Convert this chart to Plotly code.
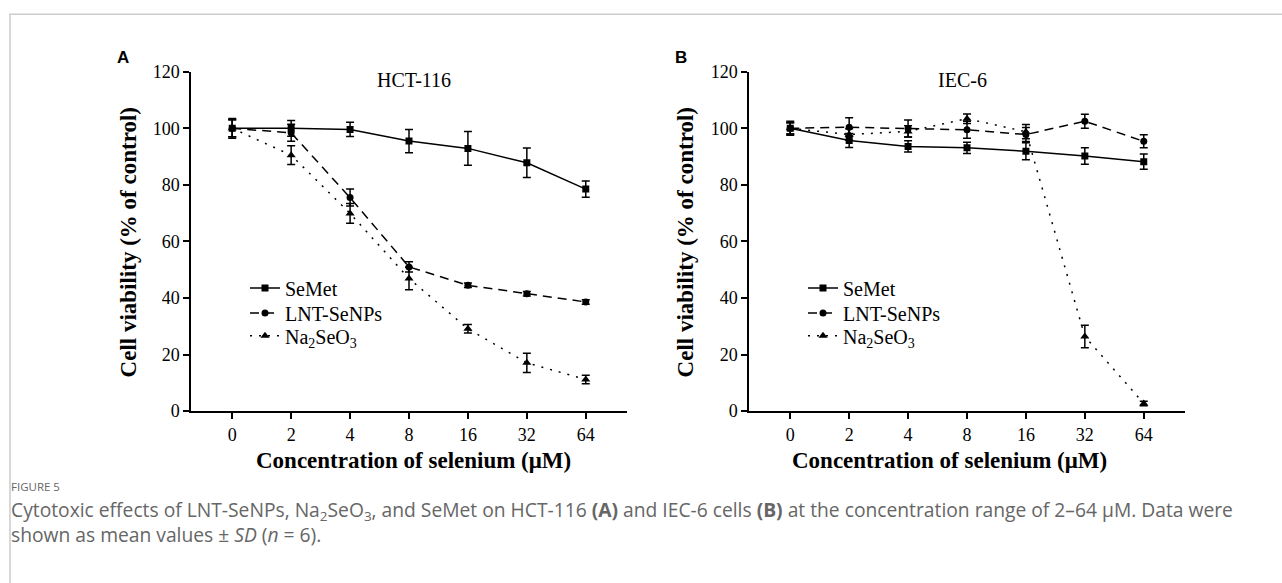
import plotly.graph_objects as go

W, H = 1282, 583

conc = ["0", "2", "4", "8", "16", "32", "64"]

# Panel A: HCT-116
a_semet = [100.0, 100.0, 99.6, 95.5, 92.9, 87.8, 78.5]
a_semet_sd = [3.0, 2.8, 2.5, 4.1, 6.0, 5.2, 2.9]
a_lnt = [100.0, 98.4, 75.5, 51.0, 44.5, 41.5, 38.6]
a_lnt_sd = [3.5, 3.0, 3.0, 1.8, 0.8, 0.8, 0.8]
a_na = [100.0, 90.5, 69.9, 46.9, 29.1, 17.1, 11.2]
a_na_sd = [3.0, 3.3, 3.5, 4.0, 1.5, 3.4, 1.5]

# Panel B: IEC-6
b_semet = [100.0, 95.7, 93.6, 93.1, 91.9, 90.2, 88.2]
b_semet_sd = [2.5, 2.5, 2.0, 2.0, 3.0, 2.9, 2.7]
b_lnt = [100.0, 100.4, 99.9, 99.5, 97.8, 102.5, 95.4]
b_lnt_sd = [2.0, 3.3, 3.0, 3.0, 2.5, 2.5, 2.3]
b_na = [100.0, 97.8, 98.9, 103.4, 98.8, 26.4, 2.7]
b_na_sd = [2.0, 2.0, 2.0, 1.7, 2.5, 4.0, 0.8]

names = ["SeMet", "LNT-SeNPs", "Na<sub>2</sub>SeO<sub>3</sub>"]
symbols = ["square", "circle", "triangle-up"]
dashes = ["solid", "9px,6px", "2px,7px"]
msizes = [7, 7, 8]

serif = "Liberation Serif, Times New Roman, serif"
sans = "Liberation Sans, Arial, sans-serif"
cap_font = "Open Sans, sans-serif"

# page-pixel helpers (vertical compensates for the observed photo mapping)
def px_x(p):
    return p / W

def px_y(t):
    return 1 - ((t - 7.8) / 0.973) / H

fig = go.Figure()

legend_rows = [288, 313, 336]
panels = [
    ([a_semet, a_lnt, a_na], [a_semet_sd, a_lnt_sd, a_na_sd], "x", "y", 245, 1),
    ([b_semet, b_lnt, b_na], [b_semet_sd, b_lnt_sd, b_na_sd], "x2", "y2", 803, 4),
]
legend_layouts = {}
for vals, sds, xa, ya, lx, lstart in panels:
    for i in range(3):
        lname = "legend" if lstart + i == 1 else f"legend{lstart + i}"
        fig.add_trace(go.Scatter(
            x=conc, y=vals[i], name=names[i], xaxis=xa, yaxis=ya, legend=lname,
            mode="lines+markers",
            line=dict(color="black", width=1.5, dash=dashes[i]),
            marker=dict(symbol=symbols[i], size=msizes[i], color="black"),
            error_y=dict(type="data", array=sds[i], visible=True,
                         color="black", thickness=1.5, width=4),
        ))
        legend_layouts[lname] = dict(
            x=px_x(lx), y=px_y(legend_rows[i]), xanchor="left", yanchor="middle",
            bgcolor="rgba(0,0,0,0)", borderwidth=0,
            font=dict(family=serif, size=20, color="black"))

ydom = [px_y(412), px_y(70)]
axis_common = dict(showline=True, linecolor="black", linewidth=1.5,
                   ticks="outside", ticklen=6, tickwidth=1.5, tickcolor="black",
                   showgrid=False, zeroline=False,
                   tickfont=dict(family=serif, size=18, color="black"))

fig.update_layout(
    width=W, height=H, margin=dict(l=0, r=0, t=0, b=0),
    paper_bgcolor="white", plot_bgcolor="white",
    xaxis=dict(domain=[px_x(191), px_x(627)], anchor="y", type="category",
               range=[-0.7, 6.7], **axis_common),
    yaxis=dict(domain=ydom, anchor="x", range=[0, 120], dtick=20, **axis_common),
    xaxis2=dict(domain=[px_x(749), px_x(1185)], anchor="y2", type="category",
                range=[-0.7, 6.7], **axis_common),
    yaxis2=dict(domain=ydom, anchor="x2", range=[0, 120], dtick=20, **axis_common),
    showlegend=True,
    **legend_layouts,
)

ann = []
def add_text(text, x, y, size, family, xanchor="center", yanchor="middle",
             textangle=0, color="black", align="center"):
    ann.append(dict(text=text, x=px_x(x), y=px_y(y), xref="paper", yref="paper",
                    xanchor=xanchor, yanchor=yanchor, showarrow=False,
                    textangle=textangle, align=align, borderpad=0,
                    font=dict(family=family, size=size, color=color)))

add_text("<b>A</b>", 123, 56, 17, sans)
add_text("<b>B</b>", 681, 56, 17, sans)
add_text("HCT-116", 414, 78, 20, serif)
add_text("IEC-6", 962, 78, 20, serif)
add_text("<b>Cell viability (% of control)</b>", 128, 242, 23, serif, textangle=-90)
add_text("<b>Cell viability (% of control)</b>", 685, 242, 23, serif, textangle=-90)
add_text("<b>Concentration of selenium (μM)</b>", 413, 462, 23, serif)
add_text("<b>Concentration of selenium (μM)</b>", 949, 462, 23, serif)

add_text("FIGURE 5", 10, 488, 11.5, cap_font, xanchor="left", color="#666666")
add_text("Cytotoxic effects of LNT-SeNPs, Na<sub>2</sub>SeO<sub>3</sub>, and SeMet on HCT-116 "
         "<b>(A)</b> and IEC-6 cells <b>(B)</b> at the concentration range of 2–64 μM. Data were"
         "<br>shown as mean values ± <i>SD</i> (<i>n</i> = 6).",
         10, 523.5, 19.25, cap_font, xanchor="left", color="#666666", align="left")

fig.update_layout(annotations=ann)

fig.add_shape(type="rect", xref="paper", yref="paper",
              x0=px_x(10), x1=1.05, y0=-0.05, y1=px_y(12),
              line=dict(color="#cccccc", width=1.5), fillcolor="rgba(0,0,0,0)",
              layer="below")

fig.write_html("out.html")
